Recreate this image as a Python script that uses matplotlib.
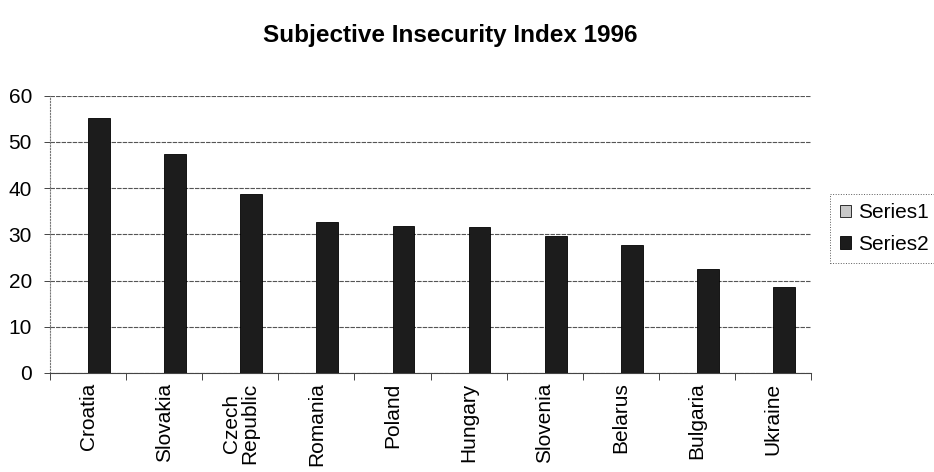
import matplotlib
matplotlib.use('Agg')
import matplotlib.pyplot as plt
import numpy as np

plt.rcParams['font.family'] = ['Liberation Sans', 'DejaVu Sans']

countries = ['Croatia', 'Slovakia', 'Czech\nRepublic', 'Romania', 'Poland',
             'Hungary', 'Slovenia', 'Belarus', 'Bulgaria', 'Ukraine']
series1 = [0, 0, 0, 0, 0, 0, 0, 0, 0, 0]
series2 = [55.2, 47.5, 38.7, 32.7, 31.8, 31.6, 29.6, 27.7, 22.6, 18.7]
yticks = [0, 10, 20, 30, 40, 50, 60]

fig = plt.figure(figsize=(9.34, 4.72), dpi=100)
ax = fig.add_axes([0.0535, 0.21, 0.815, 0.587])

x = np.arange(len(countries))
w = 1 / 3.5
ax.bar(x - w / 2, series1, w, color='#c8c8c8', edgecolor='#111111',
       linewidth=0.6, label='Series1', zorder=3)
ax.bar(x + w / 2, series2, w, color='#1c1c1c', edgecolor='#000000',
       linewidth=0.6, label='Series2', zorder=3)

ax.set_xlim(-0.5, len(countries) - 0.5)
ax.set_ylim(0, 60)
ax.set_yticks(yticks)
ax.tick_params(axis='y', labelsize=15, length=4, width=0.7, color='#444444', pad=9)

ax.set_xticks(x)
ax.set_xticklabels(countries, rotation=90, fontsize=15, multialignment='center',
                   linespacing=0.95)
ax.tick_params(axis='x', which='major', length=0, pad=7)
ax.set_xticks(np.arange(-0.5, len(countries)), minor=True)
ax.tick_params(axis='x', which='minor', length=5, width=0.7, color='#444444')

ax.grid(axis='y', color='#555555', linewidth=0.8, linestyle=(0, (4, 1)), zorder=0)
for s in ['top', 'right']:
    ax.spines[s].set_visible(False)
ax.spines['left'].set_color('#777777')
ax.spines['left'].set_linestyle(':')
ax.spines['left'].set_linewidth(0.8)
ax.spines['bottom'].set_color('#444444')
ax.spines['bottom'].set_linewidth(0.8)

fig.text(0.482, 0.925, 'Subjective Insecurity Index 1996', ha='center', va='center',
         fontsize=17.5, fontweight='bold')

leg = fig.legend(loc='upper left', bbox_to_anchor=(0.889, 0.589), fontsize=15,
                 frameon=True, fancybox=False, edgecolor='#333333',
                 handlelength=0.55, handleheight=0.55, handletextpad=0.35,
                 borderpad=0.45, labelspacing=0.6, borderaxespad=0)
leg.get_frame().set_linewidth(0.7)
leg.get_frame().set_linestyle(':')

fig.savefig('out.png', dpi=100)
